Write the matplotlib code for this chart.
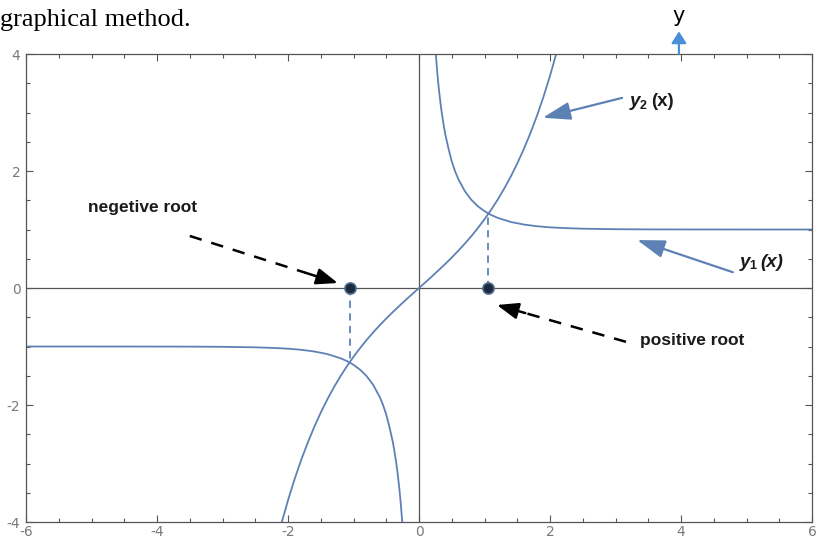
import matplotlib.pyplot as plt
from matplotlib.patches import FancyArrowPatch
from matplotlib.ticker import MultipleLocator

plt.rcParams['axes.unicode_minus'] = False

# y1(x) = coth(x), two branches
y1_pos_x = [0.25, 0.28, 0.3, 0.33, 0.35, 0.38, 0.4, 0.45, 0.5, 0.55, 0.6, 0.7, 0.8, 0.9, 1.0,
            1.1, 1.2, 1.4, 1.6, 1.8, 2.0, 2.25, 2.5, 3.0, 3.5, 4.0, 5.0, 6.0]
y1_pos_y = [4.083, 3.666, 3.433, 3.138, 2.973, 2.759, 2.632, 2.383, 2.164, 1.997, 1.862, 1.655,
            1.506, 1.396, 1.313, 1.249, 1.200, 1.129, 1.085, 1.056, 1.037, 1.023, 1.014, 1.005,
            1.002, 1.001, 1.000, 1.000]
y1_neg_x = [-6.0, -5.0, -4.0, -3.5, -3.0, -2.5, -2.25, -2.0, -1.8, -1.6, -1.4, -1.2, -1.1, -1.0,
            -0.9, -0.8, -0.7, -0.6, -0.55, -0.5, -0.45, -0.4, -0.38, -0.35, -0.33, -0.3, -0.28, -0.25]
y1_neg_y = [-1.000, -1.000, -1.001, -1.002, -1.005, -1.014, -1.023, -1.037, -1.056, -1.085,
            -1.129, -1.200, -1.249, -1.313, -1.396, -1.506, -1.655, -1.862, -1.997, -2.164,
            -2.383, -2.632, -2.759, -2.973, -3.138, -3.433, -3.666, -4.083]

# y2(x) = sinh(x)
y2_x = [-2.1, -2.0, -1.9, -1.8, -1.7, -1.6, -1.5, -1.4, -1.3, -1.2, -1.1, -1.0, -0.9, -0.8, -0.7,
        -0.6, -0.5, -0.4, -0.3, -0.2, -0.1, 0.0, 0.1, 0.2, 0.3, 0.4, 0.5, 0.6, 0.7, 0.8, 0.9, 1.0,
        1.1, 1.2, 1.3, 1.4, 1.5, 1.6, 1.7, 1.8, 1.9, 2.0, 2.1]
y2_y = [-4.022, -3.627, -3.268, -2.942, -2.646, -2.376, -2.129, -1.904, -1.698, -1.509, -1.336,
        -1.175, -1.027, -0.888, -0.759, -0.637, -0.521, -0.411, -0.305, -0.201, -0.100, 0.0,
        0.100, 0.201, 0.305, 0.411, 0.521, 0.637, 0.759, 0.888, 1.027, 1.175, 1.336, 1.509,
        1.698, 1.904, 2.129, 2.376, 2.646, 2.942, 3.268, 3.627, 4.022]

# roots and the curve crossings above/below them
root_x = [-1.06, 1.06]
cross_y = [-1.272, 1.272]

curve_c = '#5e81b5'
frame_c = '#555555'
ink = '#1a1a1a'

fig = plt.figure(figsize=(8.18, 5.4), dpi=100)
ax = fig.add_axes([0.0318, 0.0333, 0.9609, 0.8667])

ax.plot(y1_pos_x, y1_pos_y, color=curve_c, lw=1.3)
ax.plot(y1_neg_x, y1_neg_y, color=curve_c, lw=1.3)
ax.plot(y2_x, y2_y, color=curve_c, lw=1.3)

ax.axhline(0, color=frame_c, lw=0.9, zorder=1)
ax.axvline(0, color=frame_c, lw=0.9, zorder=1)

for rx, cy in zip(root_x, cross_y):
    ax.plot([rx, rx], [0, cy], color=curve_c, lw=1.3, dashes=(4, 3))
ax.plot(root_x, [0, 0], 'o', ms=8, color='#1b2a3f', mec='#4f6d92', mew=1.2, zorder=5)

ax.set_xlim(-6, 6)
ax.set_ylim(-4, 4)
ax.xaxis.set_major_locator(MultipleLocator(2))
ax.xaxis.set_minor_locator(MultipleLocator(0.5))
ax.yaxis.set_major_locator(MultipleLocator(2))
ax.yaxis.set_minor_locator(MultipleLocator(0.5))
ax.tick_params(which='both', direction='in', top=True, right=True, color=frame_c,
               labelcolor='#7a7a7a', labelsize=10, pad=2)
ax.tick_params(which='major', length=5, width=0.8)
ax.tick_params(which='minor', length=3, width=0.8)
ax.tick_params(axis='y', pad=4)
for s in ax.spines.values():
    s.set_color(frame_c)
    s.set_linewidth(0.9)


def dashed_pointer(ax, start, tip, frac=0.78):
    # dashed shaft, then a solid head along the same line
    mx = start[0] + (tip[0] - start[0]) * frac
    my = start[1] + (tip[1] - start[1]) * frac
    ax.plot([start[0], mx], [start[1], my], color='black', lw=1.8, dashes=(5, 4))
    ax.annotate('', xy=tip, xytext=(mx, my),
                arrowprops=dict(arrowstyle='-|>,head_length=1.3,head_width=0.5',
                                color='black', lw=1.8, shrinkA=0, shrinkB=0))


lab = dict(fontfamily='Liberation Sans', fontweight='bold', fontsize=12.5, color=ink)
ax.text(-5.05, 1.38, 'negetive root', ha='left', va='center', **lab)
ax.text(3.37, -0.89, 'positive root', ha='left', va='center', **lab)
dashed_pointer(ax, (-3.50, 0.89), (-1.24, 0.085))
dashed_pointer(ax, (3.16, -0.92), (1.19, -0.29))

blue_head = dict(arrowstyle='-|>,head_length=1.7,head_width=0.55',
                 color=curve_c, lw=1.6, shrinkA=0, shrinkB=0)
ax.annotate('', xy=(1.89, 2.91), xytext=(3.10, 3.25), arrowprops=blue_head)
ax.annotate('', xy=(3.33, 0.82), xytext=(4.79, 0.27), arrowprops=blue_head)


def curve_label(ax, x, y, sub, arg_italic):
    ax.text(x, y, 'y', fontfamily='Liberation Sans', fontweight='bold', fontstyle='italic',
            fontsize=13.5, color=ink, ha='left', va='center')
    ax.annotate(sub, xy=(x, y), xytext=(7, -3), textcoords='offset points',
                fontfamily='Liberation Sans', fontweight='bold', fontsize=9, color=ink,
                ha='left', va='center')
    ax.annotate('(x)', xy=(x, y), xytext=(15, 0), textcoords='offset points',
                fontfamily='Liberation Sans', fontweight='bold', fontsize=13.5, color=ink,
                fontstyle='italic' if arg_italic else 'normal', ha='left', va='center')


curve_label(ax, 3.22, 3.18, '2', False)
curve_label(ax, 4.90, 0.44, '1', True)

fig.text(0.0, 0.963, 'graphical method.', fontfamily='Liberation Serif', fontsize=19,
         ha='left', va='center', color='black')
fig.text(0.830, 0.970, 'y', fontsize=15, ha='center', va='center', color='black')
fig.patches.append(FancyArrowPatch(
    (0.830, 0.895), (0.830, 0.947), transform=fig.transFigure,
    arrowstyle='-|>,head_length=7,head_width=4.5', color='#4a90d9', lw=1.6))

fig.savefig('out.png', dpi=100)
